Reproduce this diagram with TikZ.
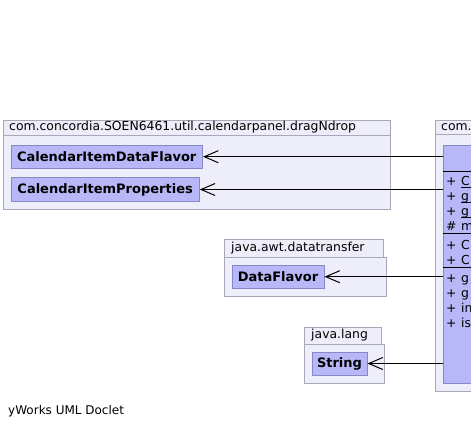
\documentclass[tikz,border=0pt]{standalone}
\usepackage{fontspec}
\setmainfont{DejaVu Sans}
\usetikzlibrary{arrows.meta}
\definecolor{pkgfill}{HTML}{EEEEFA}
\definecolor{pkgline}{HTML}{A8A8B8}
\definecolor{clsfill}{HTML}{B8B8F8}
\definecolor{clsline}{HTML}{8888C8}
\tikzset{
  pkg/.style={draw=pkgline, fill=pkgfill, line width=1pt},
  pkglabel/.style={anchor=west, inner sep=0pt, font=\fontsize{12.4}{14}\selectfont},
  cls/.style={draw=clsline, fill=clsfill, line width=1pt, inner sep=0pt,
    font=\bfseries\fontsize{13}{15}\selectfont},
  dep/.style={line width=1pt, -{Straight Barb[length=14pt,width=12pt,line width=1pt]}},
  member/.style={anchor=base west, inner sep=0pt, font=\fontsize{12.4}{14}\selectfont},
  sep/.style={line width=1pt, black}
}
\begin{document}
\begin{tikzpicture}[x=1pt,y=-1pt]
\useasboundingbox (0,0) rectangle (471,429);
\clip (0,0) rectangle (471,429);
\fill[white] (0,0) rectangle (471,429);

% package 1
\draw[pkg] (3,120) rectangle (390,209);
\draw[pkg] (3,135) -- (390,135);
\node[pkglabel] (p1lab) at (9,127.5) {com.concordia.SOEN6461.util.calendarpanel.dragNdrop};
\node[cls, minimum width=191.5pt, minimum height=23.3pt] (cdf) at (106.75,156.7) {CalendarItemDataFlavor};
\node[cls, minimum width=188.3pt, minimum height=23.4pt] (cip) at (105.15,189.5) {CalendarItemProperties};

% package 2
\draw[pkg] (224,257) rectangle (386,296);
\draw[pkg] (224,239) rectangle (383,257);
\node[pkglabel] (p2lab) at (231,248) {java.awt.datatransfer};
\node[cls, minimum width=92pt, minimum height=23pt] (df) at (278,276.7) {DataFlavor};

% package 3
\draw[pkg] (304,344) rectangle (384,383);
\draw[pkg] (304,327) rectangle (381,344);
\node[pkglabel] (p3lab) at (311,335.5) {java.lang};
\node[cls, minimum width=55pt, minimum height=23pt] (str) at (339.5,363.5) {String};

% big package
\draw[pkg] (435,120) rectangle (490,391);
\draw[pkg] (435,134) -- (490,134);
\node[pkglabel] (p4lab) at (441,127.5) {com.};
\node[cls, anchor=north west, minimum width=50pt, minimum height=238pt] (big) at (443,145) {};
\draw[sep] (443,171) -- (490,171);
\draw[sep] (443,233.5) -- (490,233.5);
\draw[sep] (443,267.5) -- (490,267.5);

\node[member] (m1) at (446,185) {+};  \node[member] (m1b) at (461,185) {C};
\node[member] (m2) at (446,200) {+};  \node[member] (m2b) at (461,200) {g};
\node[member] (m3) at (446,215) {+};  \node[member] (m3b) at (461,215) {g};
\node[member] (m4) at (446,230) {\#}; \node[member] (m4b) at (461,230) {m};
\draw[line width=0.8pt] (461,187) -- (471,187);
\draw[line width=0.8pt] (461,202.5) -- (471,202.5);
\draw[line width=0.8pt] (461,217.5) -- (471,217.5);
\node[member] (m5) at (446,249) {+};  \node[member] (m5b) at (461,249) {C};
\node[member] (m6) at (446,264) {+};  \node[member] (m6b) at (461,264) {C};
\node[member] (m7) at (446,282) {+};  \node[member] (m7b) at (461,282) {g};
\node[member] (m8) at (446,297) {+};  \node[member] (m8b) at (461,297) {g};
\node[member] (m9) at (446,312) {+};  \node[member] (m9b) at (461,312) {in};
\node[member] (m10) at (446,327) {+}; \node[member] (m10b) at (461,327) {is};

% dependencies
\draw[dep] (big.west |- cdf.east) -- (cdf.east);
\draw[dep] (big.west |- cip.east) -- (cip.east);
\draw[dep] (big.west |- df.east) -- (df.east);
\draw[dep] (big.west |- str.east) -- (str.east);

\node[pkglabel, font=\fontsize{12}{14}\selectfont] (credit) at (8,411) {yWorks UML Doclet};
\end{tikzpicture}
\end{document}
